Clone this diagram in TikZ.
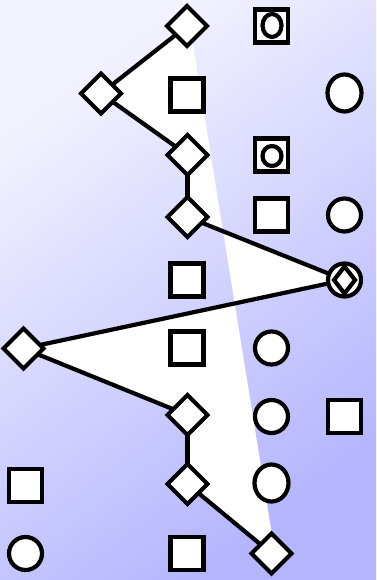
\documentclass[tikz,border=0pt]{standalone}
\usetikzlibrary{shapes.geometric,backgrounds}

\definecolor{bgtop}{RGB}{244,244,255}
\definecolor{bgbottom}{RGB}{180,180,255}

\tikzset{
  shapebase/.style={draw=black, line width=4.2pt, fill=white, inner sep=0pt, outer sep=0pt},
  dia/.style={shapebase, diamond, minimum width=40pt, minimum height=40pt},
  smalldia/.style={shapebase, diamond, minimum width=21pt, minimum height=27pt},
  sq/.style={shapebase, rectangle, minimum width=33pt, minimum height=33pt},
  circ/.style={shapebase, ellipse, minimum width=33pt, minimum height=33pt},
  oval/.style={shapebase, ellipse, minimum width=34pt, minimum height=37pt},
  innerov/.style={shapebase, ellipse, minimum width=19pt, minimum height=23pt},
  innercirc/.style={shapebase, ellipse, minimum width=19pt, minimum height=20pt},
  link/.style={draw=black, line width=4.2pt}
}

\begin{document}
\begin{tikzpicture}[x=1pt, y=-1pt]
  \useasboundingbox (0,0) rectangle (376,580);

  % chain of diamonds
  \node[dia] (d1) at (187,26) {};
  \node[dia] (d2) at (101,93.5) {};
  \node[dia] (d3) at (187.5,155) {};
  \node[dia] (d4) at (187.5,217) {};
  \node[circ] (c5) at (344.5,280) {};
  \node[smalldia] (d5) at (344.5,280) {};
  \node[dia] (d6) at (23.5,348.5) {};
  \node[dia] (d7) at (187.5,415) {};
  \node[dia] (d8) at (187.5,484) {};
  \node[dia] (d9) at (271.5,553.5) {};

  % squares
  \node[sq] (s1) at (271.5,26) {};
  \node[innerov] (s1in) at (272,25.5) {};
  \node[sq] (s2) at (187,95) {};
  \node[sq] (s3) at (271.5,155) {};
  \node[innercirc] (s3in) at (272,156) {};
  \node[sq] (s4) at (271.5,215) {};
  \node[sq] (s5) at (187,280) {};
  \node[sq] (s6) at (187,348) {};
  \node[sq] (s7) at (344.5,416.5) {};
  \node[sq] (s8) at (25.5,485.5) {};
  \node[sq] (s9) at (187,553.5) {};

  % circles and ovals
  \node[oval] (o1) at (344.5,93) {};
  \node[circ] (o2) at (344.5,215) {};
  \node[circ] (o3) at (271.5,348) {};
  \node[circ] (o4) at (271.5,416.5) {};
  \node[oval] (o5) at (271.5,483) {};
  \node[circ] (o6) at (25.5,553.5) {};

  \begin{scope}[on background layer]
    % diagonal background gradient
    \shade[top color=bgtop, bottom color=bgbottom, shading angle=37]
      (0,0) rectangle (376,580);
    % white area enclosed by the chain
    \fill[white] (d1.center) -- (d2.center) -- (d3.center) -- (d4.center)
      -- (c5.center) -- (d6.center) -- (d7.center) -- (d8.center)
      -- (d9.center) -- ([xshift=3.5pt]d9.center) -- ([xshift=3pt]d1.center)
      -- cycle;
    % connectors
    \draw[link] (d1) -- (d2);
    \draw[link] (d2) -- (d3);
    \draw[link] (d3) -- (d4);
    \draw[link] (d4) -- (c5);
    \draw[link] (c5) -- (d6);
    \draw[link] (d6) -- (d7);
    \draw[link] (d7) -- (d8);
    \draw[link] (d8) -- (d9);
  \end{scope}
\end{tikzpicture}
\end{document}
